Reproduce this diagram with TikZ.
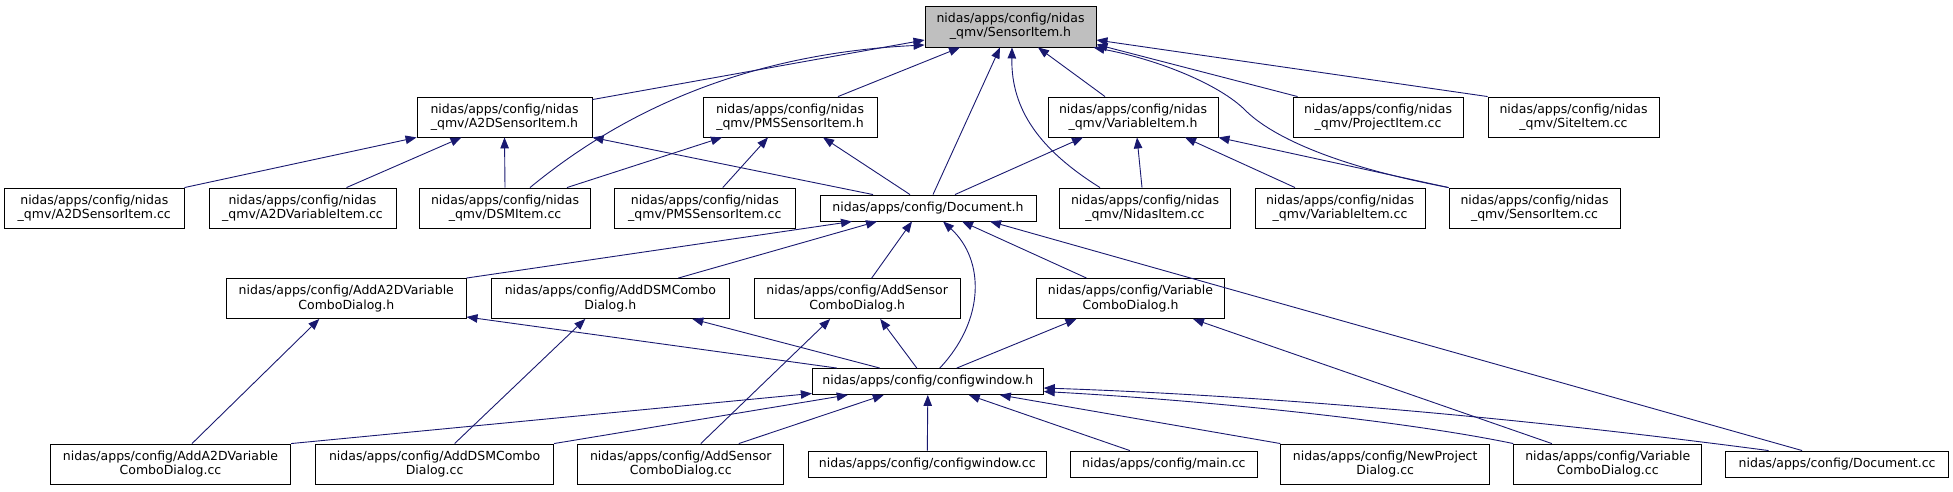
\documentclass[tikz,border=0pt]{standalone}
\usepackage{fontspec}
\setmainfont{DejaVu Sans}
\usetikzlibrary{arrows.meta,calc}
\definecolor{edgeblue}{RGB}{25,25,112}
\definecolor{rootgray}{RGB}{191,191,191}
\begin{document}
\begin{tikzpicture}[x=1pt,y=-1pt,
  box/.style={draw=black,line width=0.9pt,fill=white,inner sep=0pt,align=center,
    font=\fontsize{12.5}{14.3}\selectfont},
  two/.style={box,minimum height=40pt},
  one/.style={box,minimum height=26pt},
  edge/.style={draw=edgeblue,line width=0.9pt,-{Triangle[length=11pt,width=8.5pt]}}]
\useasboundingbox (0,0) rectangle (1953,491);
% row 1
\node[box,fill=rootgray,minimum width=171pt,minimum height=41pt] (root) at (1010.5,26.5) {nidas/apps/config/nidas\\\_qmv/SensorItem.h};
% row 2
\node[two,minimum width=175pt] (a2dh) at (504.5,117) {nidas/apps/config/nidas\\\_qmv/A2DSensorItem.h};
\node[two,minimum width=174pt] (pmsh) at (790,117) {nidas/apps/config/nidas\\\_qmv/PMSSensorItem.h};
\node[two,minimum width=170pt] (varh) at (1133,117) {nidas/apps/config/nidas\\\_qmv/VariableItem.h};
\node[two,minimum width=170pt] (projcc) at (1378,117) {nidas/apps/config/nidas\\\_qmv/ProjectItem.cc};
\node[two,minimum width=171pt] (sitecc) at (1573.5,117) {nidas/apps/config/nidas\\\_qmv/SiteItem.cc};
% row 3
\node[two,minimum width=179.5pt] (a2dcc) at (94.3,208) {nidas/apps/config/nidas\\\_qmv/A2DSensorItem.cc};
\node[two,minimum width=187pt] (a2dvarcc) at (302.5,208) {nidas/apps/config/nidas\\\_qmv/A2DVariableItem.cc};
\node[two,minimum width=171pt] (dsmcc) at (505,208) {nidas/apps/config/nidas\\\_qmv/DSMItem.cc};
\node[two,minimum width=181.5pt] (pmscc) at (704.8,208) {nidas/apps/config/nidas\\\_qmv/PMSSensorItem.cc};
\node[one,minimum width=216pt] (doch) at (928,208) {nidas/apps/config/Document.h};
\node[two,minimum width=171pt] (nidascc) at (1145,208) {nidas/apps/config/nidas\\\_qmv/NidasItem.cc};
\node[two,minimum width=170pt] (varcc) at (1340,208) {nidas/apps/config/nidas\\\_qmv/VariableItem.cc};
\node[two,minimum width=171pt] (sensorcc) at (1534.5,208) {nidas/apps/config/nidas\\\_qmv/SensorItem.cc};
% row 4
\node[two,minimum width=239.5pt] (adda2dh) at (346.3,298.5) {nidas/apps/config/AddA2DVariable\\ComboDialog.h};
\node[two,minimum width=238.5pt] (adddsmh) at (610.3,298.5) {nidas/apps/config/AddDSMCombo\\Dialog.h};
\node[two,minimum width=206.3pt] (addsensh) at (857.2,298.5) {nidas/apps/config/AddSensor\\ComboDialog.h};
\node[two,minimum width=187.6pt] (varcomboh) at (1130.5,298.5) {nidas/apps/config/Variable\\ComboDialog.h};
% row 5
\node[one,minimum width=231pt] (cwh) at (927.8,381.5) {nidas/apps/config/configwindow.h};
% row 6
\node[two,minimum width=240.2pt] (adda2dcc) at (170.5,464) {nidas/apps/config/AddA2DVariable\\ComboDialog.cc};
\node[two,minimum width=238pt] (adddsmcc) at (434.6,464) {nidas/apps/config/AddDSMCombo\\Dialog.cc};
\node[two,minimum width=206.2pt] (addsenscc) at (680.8,464) {nidas/apps/config/AddSensor\\ComboDialog.cc};
\node[one,minimum width=237.5pt] (cwcc) at (927.3,464) {nidas/apps/config/configwindow.cc};
\node[one,minimum width=186.5pt] (maincc) at (1163.8,464) {nidas/apps/config/main.cc};
\node[two,minimum width=208.7pt] (newprojcc) at (1385.2,464) {nidas/apps/config/NewProject\\Dialog.cc};
\node[two,minimum width=188.2pt] (varcombocc) at (1607.8,464) {nidas/apps/config/Variable\\ComboDialog.cc};
\node[one,minimum width=222.8pt] (doccc) at (1837.1,464) {nidas/apps/config/Document.cc};

% edges into root
\draw[edge] ($(a2dh.north east)+(0,3)$) -- ($(root.west)+(0,13.5)$);
\draw[edge] ($(dsmcc.north)+(25,0)$) .. controls (600,130) and (720,55) .. ($(root.west)+(0,18.5)$);
\draw[edge] ($(pmsh.north)+(48,0)$) -- ($(root.south)+(-50.5,0)$);
\draw[edge] ($(doch.north)+(5,0)$) -- ($(root.south)+(-10.5,0)$);
\draw[edge] ($(nidascc.north)+(-45,0)$) .. controls (1040,150) and (1011,110) .. ($(root.south)+(1.5,0)$);
\draw[edge] ($(varh.north)+(-28,0)$) -- ($(root.south)+(27.5,0)$);
\draw[edge] ($(projcc.north west)+(5,0)$) -- ($(root.south east)+(0,-3)$);
\draw[edge] (sensorcc.north west) .. controls (1330,165) and (1270,135) .. (1245,110)
   .. controls (1220,85) and (1160,60) .. ($(root.south east)+(-3,0)$);
\draw[edge] (sitecc.north west) -- ($(root.east)+(0,13.5)$);
% edges into A2DSensorItem.h
\draw[edge] (a2dcc.north east) -- (a2dh.south west);
\draw[edge] ($(a2dvarcc.north)+(44,0)$) -- ($(a2dh.south)+(-43,0)$);
\draw[edge] (dsmcc.north) -- (a2dh.south);
\draw[edge] ($(doch.north)+(-55,0)$) -- (a2dh.south east);
% edges into PMSSensorItem.h
\draw[edge] ($(dsmcc.north)+(62,0)$) -- ($(pmsh.south)+(-68,0)$);
\draw[edge] ($(pmscc.north)+(18,0)$) -- ($(pmsh.south)+(-22,0)$);
\draw[edge] ($(doch.north)+(-18,0)$) -- ($(pmsh.south)+(33,0)$);
% edges into VariableItem.h
\draw[edge] ($(doch.north)+(27,0)$) -- ($(varh.south)+(-50,0)$);
\draw[edge] ($(nidascc.north)+(-3,0)$) -- ($(varh.south)+(4,0)$);
\draw[edge] ($(varcc.north)+(-45,0)$) -- ($(varh.south)+(52,0)$);
\draw[edge] (sensorcc.north west) -- (varh.south east);
% edges into Document.h
\draw[edge] (adda2dh.north east) -- ($(doch.south)+(-76,0)$);
\draw[edge] ($(adddsmh.north)+(68,0)$) -- ($(doch.south)+(-51,0)$);
\draw[edge] ($(addsensh.north)+(14.5,0)$) -- ($(doch.south)+(-16,0)$);
\draw[edge] ($(cwh.north)+(12,0)$) .. controls (985,320) and (985,260) .. ($(doch.south)+(15,0)$);
\draw[edge] ($(varcomboh.north)+(-44,0)$) -- ($(doch.south)+(34,0)$);
\draw[edge] ($(doccc.north)+(-35,0)$) -- ($(doch.south)+(62,0)$);
% edges into row 4
\draw[edge] ($(adda2dcc.north)+(21.5,0)$) -- ($(adda2dh.south)+(-27,0)$);
\draw[edge] ($(cwh.north)+(-91,0)$) -- ($(adda2dh.south east)+(0,-2)$);
\draw[edge] ($(adddsmcc.north)+(20,0)$) -- ($(adddsmh.south)+(-25,0)$);
\draw[edge] ($(cwh.north)+(-48,0)$) -- ($(adddsmh.south)+(82,0)$);
\draw[edge] ($(addsenscc.north)+(20,0)$) -- ($(addsensh.south)+(-27,0)$);
\draw[edge] ($(cwh.north)+(-11,0)$) -- ($(addsensh.south)+(23,0)$);
\draw[edge] ($(cwh.north)+(29,0)$) -- ($(varcomboh.south)+(-54,0)$);
\draw[edge] ($(varcombocc.north)+(-56,0)$) -- ($(varcomboh.south)+(62.5,0)$);
% edges into configwindow.h
\draw[edge] (adda2dcc.north east) -- ($(cwh.south west)+(0,-1.5)$);
\draw[edge] (adddsmcc.north east) -- ($(cwh.south)+(-80,0)$);
\draw[edge] ($(addsenscc.north)+(58,0)$) -- ($(cwh.south)+(-44,0)$);
\draw[edge] (cwcc.north) -- (cwh.south);
\draw[edge] ($(maincc.north)+(-34,0)$) -- ($(cwh.south)+(41,0)$);
\draw[edge] (newprojcc.north west) -- ($(cwh.south)+(72,0)$);
\draw[edge] (varcombocc.north west) .. controls (1400,420) and (1200,400) .. ($(cwh.east)+(0,10)$);
\draw[edge] ($(doccc.north)+(-68.6,0)$) .. controls (1500,415) and (1250,395) .. ($(cwh.east)+(0,6.5)$);
\end{tikzpicture}
\end{document}
